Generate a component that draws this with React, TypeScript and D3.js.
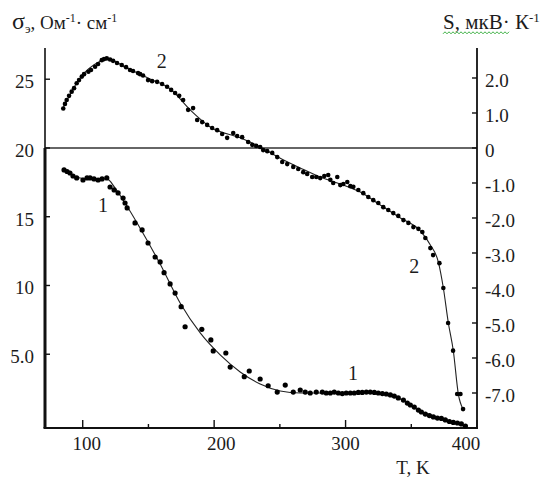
import React from "react";
import * as d3 from "d3";

// ---- Data ----
// Curve 1: electrical conductivity sigma (left axis), T in K
const sigmaT = [85.8, 88.1, 90.3, 92.6, 95.4, 100.2, 103.3, 105.6, 108.6, 111.7, 114.7, 118.3, 120.8, 123.9, 126.9, 130.7, 132.2, 133.8, 139.8, 145.2, 149.7, 155.1, 158.9, 161.9, 166.5, 170.3, 174.9, 177.9, 190.6, 197.5, 199.3, 208.9, 212.2, 222.9, 226.7, 235.0, 241.1, 248.0, 254.1, 260.2, 265.5, 269.3, 273.1, 277.7, 282.3, 285.3, 288.4, 291.4, 294.5, 297.5, 300.5, 303.6, 306.6, 309.7, 312.7, 315.8, 318.8, 321.9, 324.9, 328.0, 331.0, 334.1, 337.1, 340.1, 344.0, 347.0, 349.3, 352.3, 355.4, 357.7, 360.7, 363.8, 366.8, 369.9, 372.9, 375.9, 379.0, 382.0, 385.1, 388.1, 391.2];
const sigmaV = [18.40, 18.29, 18.18, 17.96, 17.82, 17.67, 17.82, 17.82, 17.75, 17.67, 17.75, 17.82, 17.16, 16.95, 16.73, 16.36, 16.00, 15.64, 14.55, 14.04, 13.09, 12.07, 11.71, 10.93, 10.11, 9.45, 8.46, 7.00, 6.81, 6.04, 5.24, 5.09, 4.07, 3.37, 3.78, 3.20, 2.71, 2.25, 2.76, 2.25, 2.40, 2.25, 2.18, 2.25, 2.25, 2.18, 2.18, 2.25, 2.18, 2.14, 2.18, 2.18, 2.18, 2.22, 2.22, 2.25, 2.25, 2.22, 2.18, 2.14, 2.11, 2.04, 1.96, 1.82, 1.67, 1.45, 1.31, 1.16, 0.94, 0.80, 0.65, 0.54, 0.44, 0.36, 0.33, 0.22, 0.11, 0.04, 0.00, -0.07, -0.22];
// Smooth fit line for curve 1
const sigmaFitT = [85.8, 98.0, 118.5, 124.6, 132.2, 143.6, 158.9, 174.1, 189.4, 204.6, 219.8, 235.0, 250.3, 265.5, 296.0, 318.8, 330.3, 341.7, 356.9, 372.1, 391.2];
const sigmaFitV = [18.40, 17.82, 17.75, 17.09, 16.0, 14.18, 11.56, 8.73, 6.55, 4.95, 3.71, 2.84, 2.33, 2.18, 2.18, 2.25, 2.11, 1.75, 0.87, 0.36, -0.22];

// Curve 2: thermo-EMF S (right axis)
const seebT = [85.2, 86.5, 87.8, 89.6, 91.6, 93.4, 95.4, 97.2, 99.3, 101.0, 104.3, 106.3, 109.4, 111.7, 114.5, 116.2, 118.3, 120.8, 123.1, 126.1, 129.7, 133.0, 136.0, 138.3, 142.1, 143.7, 145.9, 149.7, 152.8, 156.6, 160.4, 164.2, 167.3, 170.3, 173.4, 176.4, 180.2, 184.0, 187.1, 190.9, 194.7, 198.5, 202.3, 206.1, 209.9, 214.5, 217.5, 221.3, 225.9, 229.0, 232.0, 235.0, 237.3, 240.4, 244.2, 248.0, 251.8, 255.6, 260.2, 264.0, 267.8, 270.8, 274.6, 277.7, 280.7, 283.8, 286.8, 288.4, 290.6, 293.7, 296.0, 298.3, 301.3, 303.6, 305.9, 309.7, 313.5, 317.3, 321.1, 324.9, 328.7, 332.5, 336.3, 340.1, 344.0, 347.8, 351.6, 355.4, 358.4, 360.7, 364.5, 366.6, 371.4, 374.4, 378.0, 381.8, 384.9, 387.4, 389.4];
const seebV = [1.13, 1.26, 1.37, 1.49, 1.61, 1.71, 1.85, 1.94, 2.04, 2.11, 2.18, 2.23, 2.32, 2.40, 2.51, 2.54, 2.56, 2.53, 2.49, 2.43, 2.37, 2.31, 2.23, 2.20, 2.14, 2.11, 2.07, 1.94, 1.91, 1.89, 1.83, 1.75, 1.66, 1.57, 1.49, 1.37, 1.09, 1.14, 0.80, 0.74, 0.66, 0.57, 0.51, 0.40, 0.29, 0.43, 0.34, 0.31, 0.17, 0.09, 0.06, 0.03, -0.06, -0.09, -0.14, -0.26, -0.40, -0.46, -0.54, -0.60, -0.69, -0.74, -0.83, -0.83, -0.86, -0.80, -0.77, -0.91, -1.00, -0.83, -1.06, -1.03, -0.97, -1.09, -1.11, -1.20, -1.29, -1.40, -1.49, -1.57, -1.69, -1.77, -1.86, -1.94, -2.06, -2.14, -2.26, -2.31, -2.40, -2.57, -2.86, -3.06, -3.29, -4.00, -5.00, -5.79, -7.03, -7.03, -7.46];
// Smooth fit line for curve 2
const seebFitT = [85.0, 97.95, 113.95, 118.5, 132.2, 151.3, 166.5, 181.7, 197.0, 219.8, 235.0, 250.3, 265.5, 280.7, 296.0, 311.2, 326.4, 341.7, 356.9, 364.5, 370.6, 374.4, 378.2, 382.0, 385.8, 389.4];
const seebFitV = [1.14, 2.0, 2.49, 2.56, 2.31, 1.97, 1.69, 1.09, 0.60, 0.29, 0.03, -0.29, -0.57, -0.83, -1.03, -1.26, -1.63, -2.0, -2.37, -2.77, -3.26, -4.0, -5.0, -5.8, -7.03, -7.46];

// Axis ticks
const xMajor = [100, 200, 300, 400];
const xMajorLabels = ["100", "200", "300", "400"];
const xMinor = [150, 250, 350];
const leftTicks = [25, 20, 15, 10, 5];
const leftLabels = ["25", "20", "15", "10", "5.0"];
const rightTicks = [2, 1, 0, -1, -2, -3, -4, -5, -6, -7];
const rightLabels = ["2.0", "1.0", "0", "-1.0", "-2.0", "-3.0", "-4.0", "-5.0", "-6.0", "-7.0"];

// Curve labels: position in data units, text, which axis
const curveLabelT = [160.2, 115.5, 305.6, 352.3];
const curveLabelV = [2.49, 15.85, 3.64, -3.37];
const curveLabelText = ["2", "1", "1", "2"];
const curveLabelAxis = ["right", "left", "left", "right"];

const FONT = "'Liberation Serif', 'Times New Roman', serif";
const W = 550;
const H = 479;
const left = 45;
const right = 477;
const top = 48;
const bottom = 428;
// horizontal nudges of x tick labels (layout)
const xLabelNudge = [4, 7, 0, -11];

export default function App() {
  const x = d3.scaleLinear().domain([71.3, 400]).range([left, right]);
  const yL = d3.scaleLinear().domain([-0.364, 27.27]).range([bottom, top]);
  const yR = d3.scaleLinear().domain([-8, 2.857]).range([bottom, top]);

  const lineL = d3
    .line<number>()
    .x((_, i) => x(sigmaFitT[i]))
    .y((d) => yL(d))
    .curve(d3.curveMonotoneX);
  const lineR = d3
    .line<number>()
    .x((_, i) => x(seebFitT[i]))
    .y((d) => yR(d))
    .curve(d3.curveMonotoneX);

  // spell-check squiggle under "S, мкВ"
  let squiggle = "";
  for (let sx = 443, k = 0; sx <= 510; sx += 2, k++) {
    squiggle += (k === 0 ? "M" : "L") + sx + "," + (k % 2 === 0 ? 33.8 : 31.8);
  }

  const textColor = "#1c1c1c";

  return (
    <svg
      width={W}
      height={H}
      viewBox={`0 0 ${W} ${H}`}
      style={{ position: "absolute", left: 0, top: 0, background: "#fff" }}
      fontFamily={FONT}
    >
      <rect x={0} y={0} width={W} height={H} fill="#fff" />

      {/* titles */}
      <text x={12} y={29} fontSize={19} fill={textColor}>
        <tspan fontSize={24}>σ</tspan>
        <tspan fontSize={13} dy={4}>э</tspan>
        <tspan dy={-4}>, Ом</tspan>
        <tspan fontSize={12} dy={-7}>-1</tspan>
        <tspan dy={7}>· см</tspan>
        <tspan fontSize={12} dy={-7}>-1</tspan>
      </text>
      <text x={443} y={29} fontSize={21} fill={textColor}>
        <tspan>S, мкВ</tspan>
        <tspan>· К</tspan>
        <tspan fontSize={13} dy={-7}>-1</tspan>
      </text>
      <path d={squiggle} fill="none" stroke="#3cb043" strokeWidth={1} />

      {/* horizontal zero line */}
      <line x1={left} x2={right} y1={yR(0)} y2={yR(0)} stroke="#333" strokeWidth={1.5} />

      {/* axes */}
      <line x1={left} x2={left} y1={top} y2={bottom} stroke="#111" strokeWidth={1.6} />
      <line x1={left} x2={left} y1={yR(0)} y2={bottom} stroke="#111" strokeWidth={3} />
      <line x1={right} x2={right} y1={top} y2={bottom} stroke="#111" strokeWidth={1.8} />
      <line x1={left - 1.5} x2={right + 1} y1={bottom} y2={bottom} stroke="#111" strokeWidth={2} />

      {/* x ticks */}
      {xMajor.map((t, i) => (
        <g key={"xm" + i}>
          <line x1={x(t)} x2={x(t)} y1={bottom} y2={bottom - 8} stroke="#111" strokeWidth={1.4} />
          <text x={x(t) + xLabelNudge[i]} y={450} fontSize={19} textAnchor="middle" fill={textColor}>
            {xMajorLabels[i]}
          </text>
        </g>
      ))}
      {xMinor.map((t, i) => (
        <line key={"xn" + i} x1={x(t)} x2={x(t)} y1={bottom} y2={bottom - 4} stroke="#111" strokeWidth={1.4} />
      ))}
      <text x={413} y={474} fontSize={19} textAnchor="middle" fill={textColor}>
        T, K
      </text>

      {/* left ticks */}
      {leftTicks.map((t, i) => (
        <g key={"l" + i}>
          <line x1={left} x2={left + 5} y1={yL(t)} y2={yL(t)} stroke="#111" strokeWidth={1.4} />
          <text x={34} y={yL(t) + 9} fontSize={19} textAnchor="end" fill={textColor}>
            {leftLabels[i]}
          </text>
        </g>
      ))}

      {/* right ticks */}
      {rightTicks.map((t, i) => (
        <g key={"r" + i}>
          <line x1={right - 5} x2={right} y1={yR(t)} y2={yR(t)} stroke="#111" strokeWidth={1.4} />
          <text x={485} y={yR(t) + 9} fontSize={19} textAnchor="start" fill={textColor}>
            {rightLabels[i]}
          </text>
        </g>
      ))}

      {/* fit lines */}
      <path d={lineL(sigmaFitV) || ""} fill="none" stroke="#222" strokeWidth={1.1} />
      <path d={lineR(seebFitV) || ""} fill="none" stroke="#222" strokeWidth={1.1} />

      {/* points */}
      {sigmaV.map((v, i) => (
        <circle key={"s" + i} cx={x(sigmaT[i])} cy={yL(v)} r={2.6} fill="#000" />
      ))}
      {seebV.map((v, i) => (
        <circle key={"e" + i} cx={x(seebT[i])} cy={yR(v)} r={2.3} fill="#000" />
      ))}

      {/* curve labels */}
      {curveLabelText.map((s, i) => (
        <text
          key={"c" + i}
          x={x(curveLabelT[i])}
          y={(curveLabelAxis[i] === "left" ? yL(curveLabelV[i]) : yR(curveLabelV[i])) + 7}
          fontSize={20}
          textAnchor="middle"
          fill={textColor}
        >
          {s}
        </text>
      ))}
    </svg>
  );
}
